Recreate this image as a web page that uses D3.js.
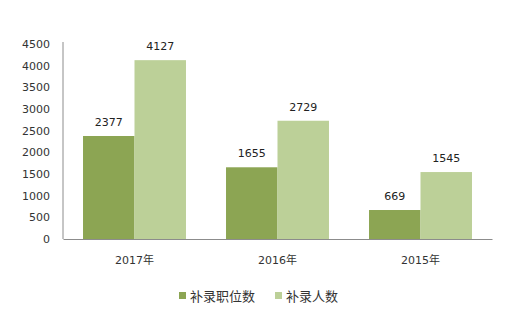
<!DOCTYPE html>
<html>
<head>
<meta charset="utf-8">
<script src="https://cdn.jsdelivr.net/npm/d3@7"></script>
<style>
  html, body { margin: 0; padding: 0; background: #ffffff; }
  svg { display: block; font-family: "DejaVu Sans", "Noto Sans CJK SC", sans-serif; }
</style>
</head>
<body>
<svg id="chart" width="525" height="313"></svg>
<script>
const categories = ["2017年", "2016年", "2015年"];
const seriesNames = ["补录职位数", "补录人数"];
const positions = [2377, 1655, 669];
const people = [4127, 2729, 1545];
const yTicks = [0, 500, 1000, 1500, 2000, 2500, 3000, 3500, 4000, 4500];

const colors = ["#8ca553", "#bcd098"];
const rows = categories.map((c, i) => ({ cat: c, values: [positions[i], people[i]] }));

const svg = d3.select("#chart");
const plotLeft = 63, plotRight = 492, plotTop = 44, plotBottom = 239;
const numFont = "DejaVu Sans, sans-serif";

const x = d3.scaleBand().domain(categories).range([plotLeft, plotRight])
  .paddingInner(0.28).paddingOuter(0.14);
const xs = d3.scaleBand().domain(d3.range(seriesNames.length)).range([0, x.bandwidth()]);
const y = d3.scaleLinear().domain([0, 4500]).range([plotBottom, plotTop]);

// bars
const groups = svg.append("g").selectAll("g").data(rows).join("g")
  .attr("transform", d => `translate(${x(d.cat)},0)`);
groups.selectAll("rect").data(d => d.values).join("rect")
  .attr("x", (v, i) => xs(i))
  .attr("width", xs.bandwidth())
  .attr("y", v => y(v))
  .attr("height", v => y(0) - y(v))
  .attr("fill", (v, i) => colors[i]);

// value labels
groups.selectAll("text").data(d => d.values).join("text")
  .attr("x", (v, i) => xs(i) + xs.bandwidth() / 2)
  .attr("y", v => y(v) - 10)
  .attr("text-anchor", "middle")
  .attr("font-size", 11)
  .attr("font-family", numFont)
  .attr("fill", "#222")
  .text(v => v);

// y axis
const yAxis = svg.append("g").attr("transform", `translate(${plotLeft},0)`)
  .call(d3.axisLeft(y).tickValues(yTicks).tickFormat(d3.format("d")).tickSize(0).tickPadding(13));
yAxis.select(".domain").attr("stroke", "#8c8c8c").attr("d", `M0,${plotTop - 2}V${plotBottom}`);
yAxis.selectAll("text").attr("font-size", 11).attr("fill", "#333")
  .attr("font-family", numFont);

// x axis
const xAxis = svg.append("g").attr("transform", `translate(0,${plotBottom})`)
  .call(d3.axisBottom(x).tickSize(0).tickPadding(17));
xAxis.select(".domain").attr("stroke", "#8c8c8c");
xAxis.selectAll("text").attr("font-size", 11).attr("fill", "#333")
  .attr("font-family", "DejaVu Sans, Noto Sans CJK SC, sans-serif");

// legend
const legendX = [179, 275];
const legend = svg.append("g").selectAll("g").data(seriesNames).join("g")
  .attr("transform", (d, i) => `translate(${legendX[i]},296)`);
legend.append("rect").attr("x", 0).attr("y", -4).attr("width", 7).attr("height", 7)
  .attr("fill", (d, i) => colors[i]);
legend.append("text").attr("x", 11).attr("y", 0).attr("dy", "0.35em")
  .attr("font-size", 13).attr("fill", "#333")
  .attr("font-family", "Noto Sans CJK SC, sans-serif")
  .text(d => d);
</script>
</body>
</html>
